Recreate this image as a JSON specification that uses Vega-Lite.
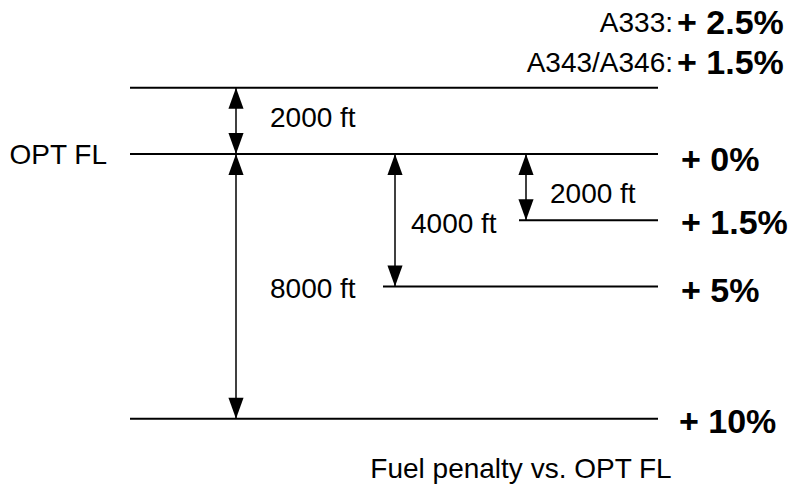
{
  "$schema": "https://vega.github.io/schema/vega-lite/v6.json",
  "width": 790,
  "height": 487,
  "autosize": {"type": "fit", "contains": "padding"},
  "padding": 0,
  "background": "white",
  "config": {"view": {"stroke": null}, "font": "Liberation Sans"},
  "datasets": {
    "levels": [
      {"level": "OPT FL +2000 ft", "alt": 2000, "from": 130, "to": 658},
      {"level": "OPT FL", "alt": 0, "from": 130, "to": 658},
      {"level": "OPT FL -2000 ft", "alt": -2000, "from": 519, "to": 658},
      {"level": "OPT FL -4000 ft", "alt": -4000, "from": 383, "to": 658},
      {"level": "OPT FL -8000 ft", "alt": -8000, "from": 130, "to": 658}
    ],
    "arrows": [
      {"pos": 236, "top": 2000, "bottom": 0},
      {"pos": 236, "top": 0, "bottom": -8000},
      {"pos": 395, "top": 0, "bottom": -4000},
      {"pos": 526, "top": 0, "bottom": -2000}
    ],
    "heads": [
      {"pos": 236, "alt": 2000, "dir": "up"},
      {"pos": 236, "alt": 0, "dir": "down"},
      {"pos": 236, "alt": 0, "dir": "up"},
      {"pos": 236, "alt": -8000, "dir": "down"},
      {"pos": 395, "alt": 0, "dir": "up"},
      {"pos": 395, "alt": -4000, "dir": "down"},
      {"pos": 526, "alt": 0, "dir": "up"},
      {"pos": 526, "alt": -2000, "dir": "down"}
    ],
    "distances": [
      {"label": "2000 ft", "pos": 270, "alt": 1069},
      {"label": "2000 ft", "pos": 550, "alt": -1227},
      {"label": "4000 ft", "pos": 411, "alt": -2133},
      {"label": "8000 ft", "pos": 270, "alt": -4097}
    ],
    "leftLabels": [
      {"label": "OPT FL", "pos": 107, "alt": -50}
    ],
    "aircraft": [
      {"label": "A333:", "pos": 673, "alt": 3927},
      {"label": "A343/A346:", "pos": 673, "alt": 2719}
    ],
    "penalties": [
      {"label": "+ 2.5%", "pos": 677, "alt": 3927},
      {"label": "+ 1.5%", "pos": 677, "alt": 2719},
      {"label": "+ 0%", "pos": 681, "alt": -211},
      {"label": "+ 1.5%", "pos": 681, "alt": -2115},
      {"label": "+ 5%", "pos": 681, "alt": -4169},
      {"label": "+ 10%", "pos": 679, "alt": -8127}
    ],
    "caption": [
      {"label": "Fuel penalty vs. OPT FL", "pos": 521, "alt": -9535}
    ]
  },
  "layer": [
    {
      "data": {"name": "levels"},
      "mark": {"type": "rule", "color": "black", "strokeWidth": 2},
      "encoding": {
        "x": {"field": "from", "type": "quantitative", "scale": {"domain": [0, 790]}, "axis": null},
        "x2": {"field": "to"},
        "y": {"field": "alt", "type": "quantitative", "scale": {"domain": [-10060, 4653]}, "axis": null}
      }
    },
    {
      "data": {"name": "arrows"},
      "mark": {"type": "rule", "color": "black", "strokeWidth": 1.5},
      "encoding": {
        "x": {"field": "pos", "type": "quantitative", "scale": {"domain": [0, 790]}, "axis": null},
        "y": {"field": "top", "type": "quantitative", "scale": {"domain": [-10060, 4653]}, "axis": null},
        "y2": {"field": "bottom"}
      }
    },
    {
      "data": {"name": "heads"},
      "mark": {"type": "point", "filled": true, "color": "black", "opacity": 1, "size": 441, "strokeWidth": 0},
      "encoding": {
        "x": {"field": "pos", "type": "quantitative", "scale": {"domain": [0, 790]}, "axis": null},
        "y": {"field": "alt", "type": "quantitative", "scale": {"domain": [-10060, 4653]}, "axis": null},
        "shape": {"field": "dir", "type": "nominal", "scale": {"domain": ["up", "down"], "range": ["M0,0L-0.72,2L0.72,2Z", "M0,0L-0.72,-2L0.72,-2Z"]}, "legend": null}
      }
    },
    {
      "data": {"name": "distances"},
      "mark": {"type": "text", "align": "left", "baseline": "middle", "fontSize": 28, "color": "black"},
      "encoding": {
        "x": {"field": "pos", "type": "quantitative", "scale": {"domain": [0, 790]}, "axis": null},
        "y": {"field": "alt", "type": "quantitative", "scale": {"domain": [-10060, 4653]}, "axis": null},
        "text": {"field": "label"}
      }
    },
    {
      "data": {"name": "leftLabels"},
      "mark": {"type": "text", "align": "right", "baseline": "middle", "fontSize": 28, "color": "black"},
      "encoding": {
        "x": {"field": "pos", "type": "quantitative", "scale": {"domain": [0, 790]}, "axis": null},
        "y": {"field": "alt", "type": "quantitative", "scale": {"domain": [-10060, 4653]}, "axis": null},
        "text": {"field": "label"}
      }
    },
    {
      "data": {"name": "aircraft"},
      "mark": {"type": "text", "align": "right", "baseline": "middle", "fontSize": 28, "color": "black"},
      "encoding": {
        "x": {"field": "pos", "type": "quantitative", "scale": {"domain": [0, 790]}, "axis": null},
        "y": {"field": "alt", "type": "quantitative", "scale": {"domain": [-10060, 4653]}, "axis": null},
        "text": {"field": "label"}
      }
    },
    {
      "data": {"name": "penalties"},
      "mark": {"type": "text", "align": "left", "baseline": "middle", "fontSize": 34, "fontWeight": "bold", "color": "black"},
      "encoding": {
        "x": {"field": "pos", "type": "quantitative", "scale": {"domain": [0, 790]}, "axis": null},
        "y": {"field": "alt", "type": "quantitative", "scale": {"domain": [-10060, 4653]}, "axis": null},
        "text": {"field": "label"}
      }
    },
    {
      "data": {"name": "caption"},
      "mark": {"type": "text", "align": "center", "baseline": "middle", "fontSize": 28, "color": "black"},
      "encoding": {
        "x": {"field": "pos", "type": "quantitative", "scale": {"domain": [0, 790]}, "axis": null},
        "y": {"field": "alt", "type": "quantitative", "scale": {"domain": [-10060, 4653]}, "axis": null},
        "text": {"field": "label"}
      }
    }
  ]
}
